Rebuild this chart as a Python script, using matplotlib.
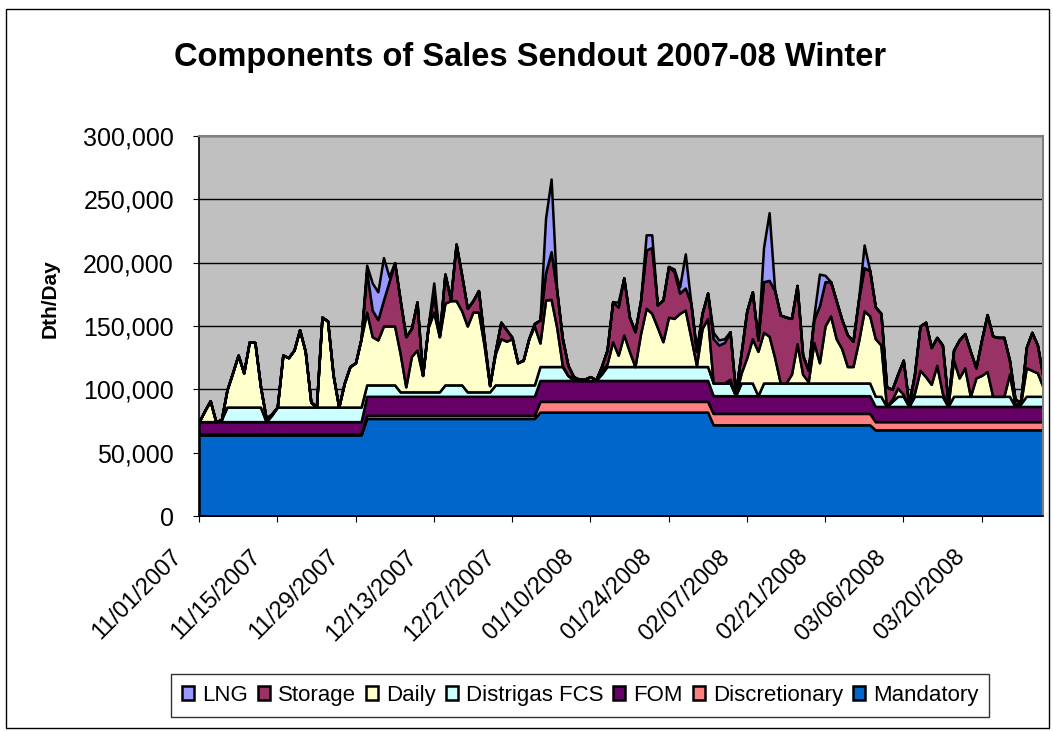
import numpy as np
import pandas as pd
import matplotlib
matplotlib.use('Agg')
import matplotlib.pyplot as plt
import matplotlib.dates as mdates
import matplotlib.transforms as mtransforms
from matplotlib.ticker import FuncFormatter
from matplotlib.patches import Rectangle

plt.rcParams['font.family'] = ['Liberation Sans', 'DejaVu Sans']

# one point per gas day, 11/01/2007 .. 03/31/2008
dates = pd.date_range('2007-11-01', '2008-03-31', freq='D')

# values in thousand Dth/day
mandatory = [64]*30 + [77]*31 + [82]*31 + [72]*29 + [68]*31
discretionary = [0.8]*30 + [2.5]*31 + [8.5]*31 + [9]*29 + [6.5]*31
fom = [9.7]*30 + [15]*31 + [16.5]*31 + [14]*29 + [12]*31

distrigas = [0, 0, 0, 0, 1.5, 11.5, 11.5, 11.5, 11.5, 11.5,
             11.5, 11.5, 0, 5, 11.5, 11.5, 11.5, 11.5, 11.5, 11.5,
             11.5, 11.5, 11.5, 11.5, 11.5, 11.5, 11.5, 11.5, 11.5, 11.5,
             9, 9, 9, 9, 9, 9, 3.5, 3.5, 3.5, 3.5,
             3.5, 3.5, 3.5, 3.5, 9, 9, 9, 9, 3.5, 3.5,
             3.5, 3.5, 3.5, 9, 9, 9, 9, 9, 9, 9,
             9, 11, 11, 11, 11, 11, 4, 0, 0, 0,
             0, 0, 5, 11, 11, 11, 11, 11, 11, 11,
             11, 11, 11, 11, 11, 11, 11, 11, 11, 11,
             11, 11, 10, 10, 10, 10, 0, 10, 10, 10,
             0, 10, 10, 10, 10, 10, 10, 10, 10, 10,
             10, 10, 10, 10, 10, 10, 10, 10, 10, 10,
             10, 8, 8, 0, 4, 8, 8, 0, 8, 8,
             8, 8, 8, 8, 0, 8, 8, 8, 8, 8,
             8, 8, 8, 8, 8, 8, 0, 2, 8, 8,
             8, 8]

daily = [0, 8.5, 16.5, 0, 0, 13.5, 27, 41, 27, 51.5,
         51, 16, 2.5, 1, 0, 41, 39, 45, 61, 44,
         4, 0, 71, 68, 25, 0, 19, 32, 35, 54,
         57.5, 38, 35.5, 46.5, 46.5, 46.5, 30, 4, 28, 33,
         13, 51, 63, 43.5, 64.5, 66.5, 66.5, 58.5, 52, 63,
         63, 37, 5, 24.5, 36.5, 34.5, 36.5, 17.5, 19.5, 36.5,
         46.5, 18.6, 52.5, 53, 31, 1, 0, 2, 1, 1,
         3, 0.5, 3, 2, 19.6, 9, 25, 12, 0, 26,
         46, 42, 31, 19.6, 39, 38, 42, 44.6, 23, 1,
         30, 38, 0, 0, 0, 3, 0, 8, 20, 35,
         35, 40, 37, 20, 0, 0, 7, 31, 7, 1,
         32, 16, 45, 53, 35, 27, 13, 13, 33, 57,
         53, 45.5, 40.5, 0, 1.5, 6.5, 1.5, 0.5, 2.5, 20.5,
         15.5, 9.5, 24.5, 2.5, 0.5, 28.5, 14.5, 22.5, 0, 14.5,
         16.5, 19.5, 0, 0, 0, 17.5, 1.5, 0.5, 22.5, 20.5,
         18.5, 7.5]

storage = [0, 0, 0, 0, 0, 0, 0, 0, 0, 0,
           0, 0, 0, 0, 0, 0, 0, 0, 0, 0,
           0, 0, 0, 0, 0, 0, 0, 0, 0, 0,
           32, 21, 16, 20.5, 35, 50, 42, 39.6, 22, 38,
           0, 1, 14, 0.5, 23, 1, 44.7, 28, 14, 9,
           17, 5, 0, 2, 13, 9, 1, 0, 0, 0,
           2, 18.1, 21.5, 37.7, 29, 21.5, 8, 1, 0, 0,
           0, 0, 3, 11, 31.4, 38, 45, 27, 27.5, 26,
           46, 52, 17.6, 32.9, 40, 37, 16, 17.4, 27, 11,
           12, 20, 35, 30, 32, 37.5, 2, 16, 37, 37,
           9, 40, 44, 53, 53.7, 52, 44, 46, 15, 9,
           18, 45, 35, 27, 30, 23, 25, 20, 33, 34,
           35.7, 25, 25, 15.5, 8, 11, 27, 1, 15, 35,
           43, 29, 22, 38, 3, 8, 30, 27, 35.5, 8,
           28, 45, 47.5, 46.5, 46.5, 11, 4, 1, 16, 30,
           22, 8]

lng = [0, 0, 0, 0, 0, 0, 0, 0, 0, 0,
       0, 0, 0, 0, 0, 0, 0, 0, 0, 0,
       0, 0, 0, 0, 0, 0, 0, 0, 0, 0,
       5, 21.4, 22, 33.5, 4, 0, 0, 0, 0, 0,
       0, 0, 9, 0, 0, 0, 0, 0, 0, 0,
       0, 0, 0, 0, 0, 0, 0, 0, 0, 0,
       0, 0, 43, 57.3, 0, 0, 0, 0, 0, 0,
       0, 0, 0, 0, 0, 4, 0, 0, 0, 0,
       12, 10, 0, 0, 0, 2, 5, 27, 0, 0,
       0, 0, 5, 4, 3, 0, 0, 0, 0, 0,
       0, 27, 53.5, 0, 0, 0, 0, 0, 0, 0,
       3, 25, 5, 0, 0, 0, 0, 0, 0, 18,
       0, 0, 0, 0, 0, 0, 0, 0, 0, 0,
       0, 0, 0, 0, 0, 0, 0, 0, 0, 0,
       0, 0, 0, 0, 0, 0, 0, 0, 0, 0,
       0, 0]

names = ['Mandatory', 'Discretionary', 'FOM', 'Distrigas FCS', 'Daily', 'Storage', 'LNG']
colors = ['#0066CC', '#FF8080', '#660066', '#CCFFFF', '#FFFFCC', '#993366', '#9999FF']
series = [mandatory, discretionary, fom, distrigas, daily, storage, lng]
series = [np.array(s) * 1000 for s in series]

fig = plt.figure(figsize=(10.53, 7.31), dpi=100)
ax = fig.add_axes([199/1053, 1-516/731, (1043-199)/1053, (516-136)/731])
ax.set_facecolor('#C0C0C0')

polys = ax.stackplot(dates, series, colors=colors, labels=names,
                     edgecolor='black', linewidth=1.8)

ax.set_xlim(dates[0], dates[-1])
ax.set_ylim(0, 300000)
ax.set_yticks(np.arange(0, 300001, 50000))
ax.yaxis.set_major_formatter(FuncFormatter(lambda v, p: '{:,.0f}'.format(v)))
ax.yaxis.grid(True, color='black', lw=1)
ax.set_axisbelow(True)

ax.set_xticks(dates[::14])
ax.xaxis.set_major_formatter(mdates.DateFormatter('%m/%d/%Y'))
ax.tick_params(axis='x', labelsize=17, direction='out', length=4.5, pad=17)
ax.tick_params(axis='y', labelsize=18, direction='out', length=4, pad=14)
# excel puts the rotated labels a bit left of the tick
shift = mtransforms.ScaledTranslation(-0.28, 0, fig.dpi_scale_trans)
for lab in ax.get_xticklabels():
    lab.set_rotation(45)
    lab.set_ha('right')
    lab.set_rotation_mode('anchor')
    lab.set_transform(lab.get_transform() + shift)

for s in ['top', 'right']:
    ax.spines[s].set_color('#808080')
    ax.spines[s].set_linewidth(1.5)
for s in ['left', 'bottom']:
    ax.spines[s].set_color('black')
    ax.spines[s].set_linewidth(1.2)

fig.text(0.503, 0.922, 'Components of Sales Sendout 2007-08 Winter',
         ha='center', va='center', fontsize=23.5, fontweight='bold')
fig.text(0.0475, 0.591, 'Dth/Day', rotation=90, ha='center', va='center',
         fontsize=15, fontweight='bold')

leg = fig.legend(polys[::-1], names[::-1], loc='center', bbox_to_anchor=(0.551, 0.049),
                 ncol=7, fontsize=16, frameon=True, fancybox=False,
                 handlelength=0.55, handleheight=0.55, handletextpad=0.35,
                 columnspacing=0.45, borderpad=0.5, borderaxespad=0)
leg.get_frame().set_edgecolor('black')
leg.get_frame().set_linewidth(1)

fig.patches.append(Rectangle((0.006, 0.004), 0.99, 0.984, transform=fig.transFigure,
                             fill=False, ec='black', lw=1))

fig.savefig('out.png', dpi=100)
